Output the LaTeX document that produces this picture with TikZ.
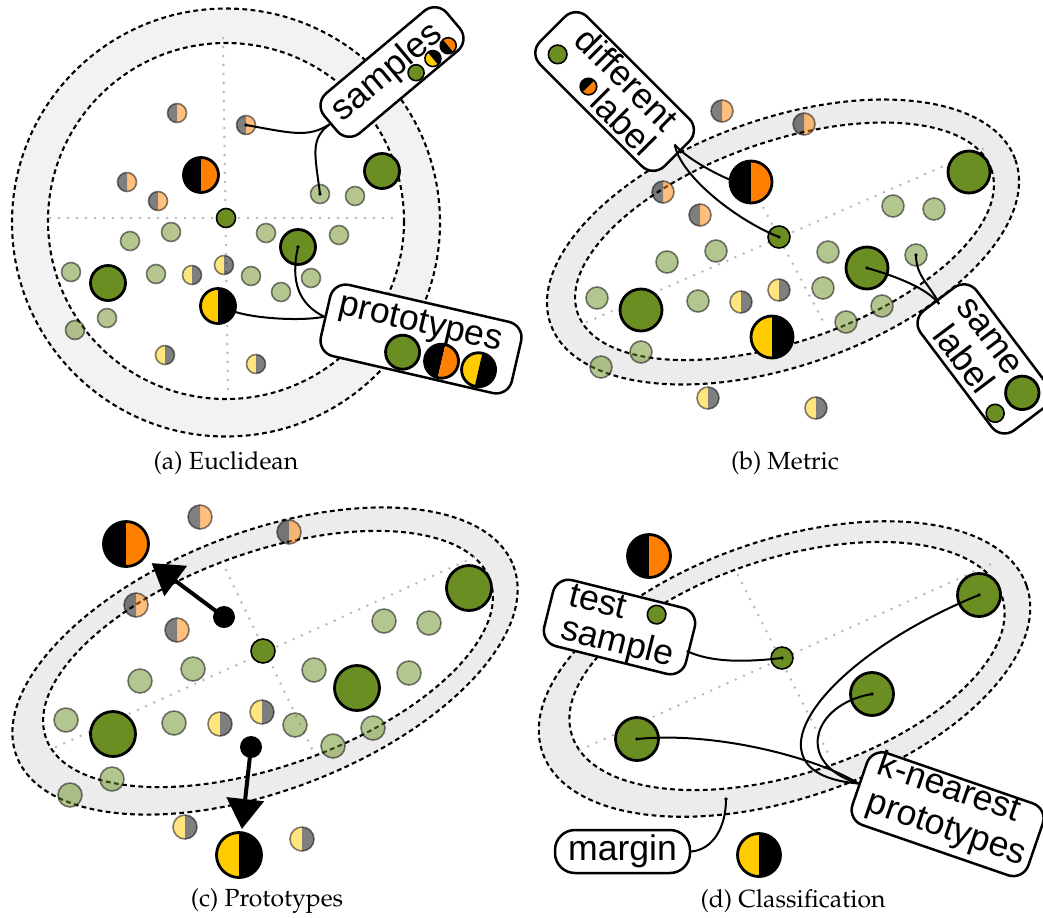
\documentclass[tikz,border=0pt]{standalone}
\usepackage[T1]{fontenc}
\usepackage{fontspec}
\newfontfamily\lsans{Liberation Sans}
\usetikzlibrary{arrows.meta}
\definecolor{pgreen}{RGB}{107,142,35}
\definecolor{porange}{RGB}{255,128,0}
\definecolor{pyellow}{RGB}{255,204,0}
\definecolor{bandgray}{RGB}{236,236,236}
\definecolor{bandlight}{RGB}{242,242,242}
\definecolor{axisgray}{RGB}{185,185,185}
\newcommand\capfont{\fontencoding{T1}\fontfamily{ppl}\fontsize{12.4}{14}\selectfont}
\newcommand\labfont{\lsans\fontsize{17.8}{17.8}\selectfont}
\newcommand\halves[4]{%
  \fill[#3] ([shift={(0,#2)}]#1) arc[start angle=90,end angle=270,radius=#2] -- cycle;
  \fill[#4] ([shift={(0,-#2)}]#1) arc[start angle=-90,end angle=90,radius=#2] -- cycle;}
\newcommand\pG[2]{\node[proto=\rp, fill=pgreen] (#1) at (#2) {};}
\newcommand\pBO[2]{\halves{#2}{\rp}{black}{porange}\node[proto=\rp] (#1) at (#2) {};}
\newcommand\pYB[2]{\halves{#2}{\rp}{pyellow}{black}\node[proto=\rp] (#1) at (#2) {};}
\newcommand\sG[2]{\node[samp=\rs, fill=pgreen, fill opacity=.5] (#1) at (#2) {};}
\newcommand\sGO[2]{\halves{#2}{\rs}{black,fill opacity=.5}{porange,fill opacity=.5}\node[samp=\rs] (#1) at (#2) {};}
\newcommand\sYG[2]{\halves{#2}{\rs}{pyellow,fill opacity=.5}{black,fill opacity=.5}\node[samp=\rs] (#1) at (#2) {};}
\tikzset{
  proto/.style={circle, inner sep=0pt, outer sep=0pt, draw=black, line width=1.4pt, minimum size=#1pt},
  samp/.style={circle, inner sep=0pt, outer sep=0pt, draw=black, draw opacity=.5, line width=.8pt, minimum size=#1pt},
  thin/.style={circle, inner sep=0pt, outer sep=0pt, draw=black, line width=.8pt, minimum size=#1pt},
  tsamp/.style={thin=#1, fill=pgreen},
  cbox/.style={draw=black, line width=1.25pt, fill=white, rounded corners=8pt, inner sep=0pt, rectangle},
  lab/.style={font=\labfont, inner sep=0pt},
  bord/.style={draw=black, line width=1.05pt, dash pattern=on 2.4pt off 1.7pt},
  axisline/.style={draw=axisgray, line width=1.4pt, line cap=round, dash pattern=on 0pt off 4.5pt},
  conn/.style={draw=black, line width=1pt},
  arr/.style={draw=black, line width=2pt, -{Triangle[width=18.5pt,length=15pt]}},
  mdot/.style={circle, fill=black, inner sep=0pt, minimum size=11pt},
  captext/.style={font=\capfont, inner sep=0pt},
}
\begin{document}
\begin{tikzpicture}[x=0.5pt,y=-0.5pt]
\useasboundingbox (0,0) rectangle (1043,917);

% ================= panel (a) =================
\fill[bandlight, even odd rule] (226,222.5) circle (214) (226,221) circle (178);
\draw[bord] (226,222.5) circle (214);
\draw[bord] (226,221) circle (178);
\draw[axisline] (50,218) -- (397,218);
\draw[axisline] (223,38) -- (228,395);
\def\rs{9.5}\def\rp{17.5}
\sGO{as1}{177,113}
\sGO{as2}{246,125}
\sGO{as3}{127,182}
\sGO{as4}{158,201}
\sG{ag1}{320,194}
\sG{ag2}{355,196}
\sG{ag3}{171,232}
\sG{ag4}{130,241}
\sG{ag5}{266,233}
\sG{ag6}{339,235}
\sG{ag7}{71,272}
\sG{ag8}{156,274}
\sG{ag9}{251,276}
\sG{ag10}{311,278}
\sG{ag11}{281,292}
\sG{ag12}{107,318}
\sG{ag13}{75,330}
\sYG{ay1}{192,275}
\sYG{ay2}{224,265}
\sYG{ay3}{165,355}
\sYG{ay4}{256,364}
\node[tsamp=\rs] (ac) at (226,218) {};
\pBO{apbo}{201,175}
\pG{apg1}{382,171}
\pG{apg2}{108,283}
\pG{apg3}{298,247}
\pYB{apyb}{218,306}

% ================= panel (b) =================
\begin{scope}[shift={(783,242)}, rotate=19.5]
  \fill[bandgray] (0,0) ellipse [x radius=246.5, y radius=123.4];
  \draw[bord] (0,0) ellipse [x radius=246.5, y radius=123.4];
\end{scope}
\begin{scope}[shift={(784.5,241.3)}, rotate=19.2]
  \fill[white] (0,0) ellipse [x radius=219, y radius=100];
  \draw[bord] (0,0) ellipse [x radius=219, y radius=100];
\end{scope}
\draw[axisline] (587,322) -- (985,148);
\draw[axisline] (755,192) -- (825,325);
\def\rs{11}\def\rp{21}
\sGO{bs1}{722,111}
\sGO{bs2}{804,124}
\sGO{bs3}{663,192}
\sGO{bs4}{700,215}
\sG{bg1}{893,206}
\sG{bg2}{934,209}
\sG{bg3}{716,251}
\sG{bg4}{667,262}
\sG{bg5}{828,252}
\sG{bg6}{916,255}
\sG{bg7}{597,298}
\sG{bg8}{698,301}
\sG{bg9}{823,288}
\sG{bg10}{882,306}
\sG{bg11}{846,322}
\sG{bg12}{641,352}
\sG{bg13}{601,367}
\sYG{by1}{741,302}
\sYG{by2}{779,290}
\sYG{by3}{708,398}
\sYG{by4}{816,408}
\node[tsamp=\rs] (bc) at (779,237) {};
\pBO{bpbo}{751,182}
\pG{bpg1}{969,172}
\pG{bpg2}{641,310}
\pG{bpg3}{867,268}
\pYB{bpyb}{772,337}

% ================= panel (c) =================
\begin{scope}[shift={(265,661)}, rotate=21]
  \fill[bandgray] (0,0) ellipse [x radius=266, y radius=129];
  \draw[bord] (0,0) ellipse [x radius=266, y radius=129];
\end{scope}
\begin{scope}[shift={(268,659)}, rotate=19.6]
  \fill[white] (0,0) ellipse [x radius=235.7, y radius=107];
  \draw[bord] (0,0) ellipse [x radius=235.7, y radius=107];
\end{scope}
\draw[axisline] (56,747) -- (481,554);
\draw[axisline] (226,570) -- (314,753);
\def\rs{12}\def\rp{22.5}
\sGO{cs1}{200,517}
\sGO{cs2}{289,532}
\sGO{cs3}{136,605}
\sGO{cs4}{177,630}
\sG{cg1}{384,621}
\sG{cg2}{429,623}
\sG{cg3}{193,669}
\sG{cg4}{140,681}
\sG{cg5}{314,670}
\sG{cg6}{409,673}
\sG{cg7}{66,720}
\sG{cg8}{174,723}
\sG{cg9}{295,725}
\sG{cg10}{373,728}
\sG{cg11}{333,746}
\sG{cg12}{112,779}
\sG{cg13}{70,795}
\sYG{cy1}{220,724}
\sYG{cy2}{262,712}
\sYG{cy3}{185,827}
\sYG{cy4}{302,839}
\node[tsamp=\rs] (cc) at (263,651) {};
\pBO{cpbo}{126,544}
\pG{cpg1}{469,588}
\pG{cpg2}{357,688}
\pG{cpg3}{113,734}
\pYB{cpyb}{239,855}
\node[mdot] (cm1) at (224,617) {};
\node[mdot] (cm2) at (251,747) {};
\draw[arr, shorten >=4.75pt] (cm1.center) -- (cpbo);
\draw[arr, shorten >=1.85pt] (cm2.center) -- (cpyb);

% ================= panel (d) =================
\begin{scope}[shift={(784.5,669)}, rotate=19]
  \fill[bandgray] (0,0) ellipse [x radius=256, y radius=129];
  \draw[bord] (0,0) ellipse [x radius=256, y radius=129];
\end{scope}
\begin{scope}[shift={(787,666)}, rotate=17.9]
  \fill[white] (0,0) ellipse [x radius=226, y radius=108];
  \draw[bord] (0,0) ellipse [x radius=226, y radius=108];
\end{scope}
\draw[axisline] (580,750) -- (993,563);
\draw[axisline] (738,575) -- (830,757);
\def\rs{11}\def\rp{21.5}
\node[tsamp=\rs] (dt) at (782,658) {};
\pBO{dpbo}{649,556}
\pG{dpg1}{979,595}
\pG{dpg2}{872,694}
\pG{dpg3}{637,739}
\pYB{dpyb}{759,855}
\coordinate (dmdot) at (726,799);

% ================= callouts =================
% samples
\begin{scope}[shift={(392,72)}, rotate=40, transform shape]
  \node[cbox, minimum width=80pt, minimum height=26pt] (sbox) at (0,0) {};
  \node[lab, anchor=base] (stext) at (-4,7) {samples};
  \node[tsamp=8] (sc1) at (18,16) {};
  \halves{40,16}{8}{pyellow}{black}\node[thin=8] (sc2) at (40,16) {};
  \halves{60,16}{8}{black}{porange}\node[thin=8] (sc3) at (60,16) {};
\end{scope}
% prototypes
\begin{scope}[shift={(421,339)}, rotate=-13, transform shape]
  \node[cbox, minimum width=98pt, minimum height=36.5pt] (pbox) at (0,0) {};
  \node[lab, anchor=base] (ptext) at (-4,-6) {prototypes};
  \def\rp{17}
  \pG{pc1}{-15,17}
  \pBO{pc2}{25,17}
  \pYB{pc3}{63,17}
\end{scope}
% different label
\begin{scope}[shift={(614.6,91.5)}, rotate=-45, transform shape]
  \node[cbox, minimum width=88pt, minimum height=33.5pt] (dbox) at (0,0) {};
  \node[lab, anchor=base] (dtext1) at (0,-5) {different};
  \node[lab, anchor=base] (dtext2) at (28,28) {label};
  \node[tsamp=9.3] (dc1) at (-66.5,14) {};
  \halves{-22,15}{8.3}{black}{porange}\node[thin=8.3] (dc2) at (-22,15) {};
  \coordinate (dcon) at (80,-5);
\end{scope}
% same label
\begin{scope}[shift={(984.2,358.9)}, rotate=-53, transform shape]
  \node[cbox, minimum width=75pt, minimum height=35pt] (qbox) at (0,0) {};
  \node[lab, anchor=base] (qtext1) at (-15,-8) {same};
  \node[lab, anchor=base] (qtext2) at (-12,28) {label};
  \node[proto=16.7, fill=pgreen] (qc1) at (50,-10) {};
  \node[tsamp=9] (qc2) at (50,24) {};
  \coordinate (qcon) at (-71,3);
\end{scope}
% test sample
\begin{scope}[shift={(619.5,627)}, rotate=-14, transform shape]
  \node[cbox, minimum width=73pt, minimum height=34pt] (tbox) at (0,0) {};
  \node[lab, anchor=base west] (ttext1) at (-56,-8.5) {test};
  \node[lab, anchor=base west] (ttext2) at (-56,26) {sample};
  \node[tsamp=9.3] (tc1) at (33,-21) {};
  \coordinate (tcon) at (71,7);
\end{scope}
% k-nearest prototypes
\begin{scope}[shift={(947.6,814.2)}, rotate=-19, transform shape]
  \node[cbox, minimum width=93pt, minimum height=38pt] (kbox) at (0,0) {};
  \node[lab, anchor=base west] (ktext1) at (-82,-15) {k-nearest};
  \node[lab, anchor=base west] (ktext2) at (-80,24) {prototypes};
\end{scope}
% margin
\node[cbox, rounded corners=10pt, minimum width=67.5pt, minimum height=21.5pt, font=\labfont] (mbox) at (622.5,851.5) {margin};

% ================= connectors =================
\draw[conn] (sbox.west) .. controls +(-22,14) and +(45,8) .. (as2.center);
\draw[conn] (sbox.west) .. controls +(-20,15) and +(-5,-40) .. (ag1.center);
\fill (as2.center) circle (1.8);
\fill (ag1.center) circle (1.8);
\draw[conn] (pbox.west) .. controls +(-25,5) and +(35,12) .. (apyb);
\draw[conn] (pbox.west) .. controls +(-25,-12) and +(-8,35) .. (apg3.center);
\fill (apg3.center) circle (1.8);

\draw[conn] (dcon) .. controls +(12,15) and +(-25,-3) .. (bpbo);
\draw[conn] (dcon) .. controls +(5,30) and +(-45,-18) .. (bc.center);
\fill (bc.center) circle (1.8);
\draw[conn] (qcon) .. controls +(-12,-16) and +(28,8) .. (bpg3.center);
\draw[conn] (qcon) .. controls +(-8,-18) and +(0,22) .. (bg6.center);
\fill (bpg3.center) circle (1.8);
\fill (bg6.center) circle (1.8);

\draw[conn] (tcon) .. controls +(25,12) and +(-35,4) .. (dt.center);
\fill (dt.center) circle (1.8);
\draw[conn] (kbox.west) .. controls +(-40,-25) and +(80,-8) .. (dpg3.center);
\draw[conn] (kbox.west) .. controls +(-65,-20) and +(-60,10) .. (dpg2.center);
\draw[conn] (kbox.west) .. controls +(-120,-10) and +(-160,65) .. (dpg1.center);
\fill (dpg1.center) circle (1.8);
\fill (dpg2.center) circle (1.8);
\fill (dpg3.center) circle (1.8);
\draw[conn] (mbox.east) .. controls +(22,-2) and +(0,28) .. (dmdot);
\fill (dmdot) circle (1.8);

% ================= captions =================
\node[captext] (capa) at (226,463) {(a) Euclidean};
\node[captext] (capb) at (785,463) {(b) Metric};
\node[captext] (capc) at (267,901) {(c) Prototypes};
\node[captext] (capd) at (793,901) {(d) Classification};
\end{tikzpicture}
\end{document}
